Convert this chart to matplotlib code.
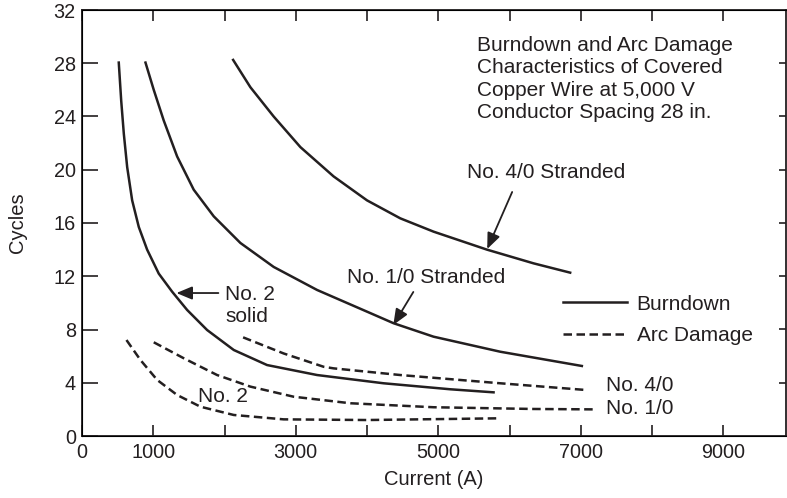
import matplotlib
matplotlib.use("Agg")
import matplotlib.pyplot as plt

plt.rcParams['font.family'] = ['Liberation Sans', 'DejaVu Sans']
INK = '#231f20'

# burndown curves (solid)
no2_solid_x = [516, 550, 587, 634, 704, 797, 914, 1077, 1265, 1475, 1756, 2130, 2597, 3299, 4233, 5168, 5776]
no2_solid_y = [28.05, 25.2, 22.7, 20.2, 17.7, 15.7, 14.0, 12.2, 10.84, 9.47, 7.96, 6.46, 5.33, 4.58, 3.96, 3.51, 3.28]

no10_strand_x = [891, 1007, 1147, 1335, 1568, 1849, 2223, 2690, 3299, 4000, 4373, 4934, 5870, 7015]
no10_strand_y = [28.05, 26.0, 23.7, 21.0, 18.5, 16.5, 14.5, 12.7, 10.97, 9.34, 8.47, 7.46, 6.33, 5.26]

no40_strand_x = [2121, 2363, 2690, 3065, 3531, 4000, 4467, 4934, 5683, 6337, 6851]
no40_strand_y = [28.25, 26.2, 24.0, 21.7, 19.5, 17.7, 16.35, 15.35, 14.0, 12.97, 12.27]

# arc damage curves (dashed)
arc40_x = [2261, 2830, 3391, 3532, 4467, 5870, 7062]
arc40_y = [7.41, 6.2, 5.2, 5.08, 4.58, 3.96, 3.46]

arc10_x = [1007, 1428, 1896, 2363, 2971, 3766, 4934, 6337, 7178]
arc10_y = [7.04, 5.84, 4.58, 3.71, 2.95, 2.46, 2.16, 2.03, 2.0]

arc2_x = [624, 820, 1055, 1335, 1662, 2129, 2830, 4000, 5870]
arc2_y = [7.21, 5.71, 4.21, 3.08, 2.2, 1.58, 1.25, 1.2, 1.33]

x_ticks = [0, 1000, 2000, 3000, 4000, 5000, 6000, 7000, 8000, 9000]
x_labels = ['0', '1000', '', '3000', '', '5000', '', '7000', '', '9000']
y_ticks = [0, 4, 8, 12, 16, 20, 24, 28, 32]

fig = plt.figure(figsize=(7.87, 4.98), dpi=100)
ax = fig.add_axes([82 / 787, 1 - 436 / 498, 704 / 787, 426 / 498])

lw = 1.8
dash = (3.4, 1.8)
kw = dict(color=INK, lw=lw, solid_joinstyle='round', dash_joinstyle='round')
ax.plot(no2_solid_x, no2_solid_y, label='Burndown', **kw)
ax.plot(no10_strand_x, no10_strand_y, **kw)
ax.plot(no40_strand_x, no40_strand_y, **kw)
ax.plot(arc40_x, arc40_y, dashes=dash, label='Arc Damage', **kw)
ax.plot(arc10_x, arc10_y, dashes=dash, **kw)
ax.plot(arc2_x, arc2_y, dashes=dash, **kw)

ax.set_xlim(0, 9880)
ax.set_ylim(0, 32)
ax.set_xticks(x_ticks)
ax.set_xticklabels(x_labels)
ax.set_yticks(y_ticks)
ax.tick_params(axis='both', direction='in', colors=INK, labelsize=14.3, width=1.2)
ax.tick_params(axis='x', top=True, length=8, pad=5)
ax.tick_params(axis='y', length=11.3, pad=4.5)
for s in ax.spines.values():
    s.set_linewidth(1.3)
    s.set_color(INK)

# right side has shorter ticks
ax2 = ax.twinx()
ax2.set_ylim(0, 32)
ax2.set_yticks(y_ticks[1:-1])
ax2.tick_params(axis='y', direction='in', length=4.7, width=1.2, colors=INK, labelright=False)
ax2.spines['right'].set_visible(False)

ax.set_xlabel('Current (A)', fontsize=14.5, color=INK, labelpad=6)
ax.set_ylabel('Cycles', fontsize=14.5, color=INK, labelpad=19)

fs = 15
ax.text(5543, 26.82, 'Burndown and Arc Damage\nCharacteristics of Covered\n'
        'Copper Wire at 5,000 V\nConductor Spacing 28 in.',
        fontsize=fs, color=INK, ha='left', va='center', linespacing=1.24)

ax.text(5407, 19.76, 'No. 4/0 Stranded', fontsize=fs, color=INK, va='center')
ax.text(3720, 11.87, 'No. 1/0 Stranded', fontsize=fs, color=INK, va='center')
ax.text(2013, 9.8, 'No. 2\nsolid', fontsize=fs, color=INK, va='center', linespacing=1.23)
ax.text(1634, 2.93, 'No. 2', fontsize=fs, color=INK, va='center')
ax.text(7356, 3.76, 'No. 4/0', fontsize=fs, color=INK, va='center')
ax.text(7356, 2.03, 'No. 1/0', fontsize=fs, color=INK, va='center')

arrow = dict(arrowstyle='-|>,head_length=0.6,head_width=0.25', color=INK, lw=1.3,
             mutation_scale=16, shrinkA=0, shrinkB=0)
ax.annotate('', xy=(5687, 14.05), xytext=(6037, 18.33), arrowprops=arrow)
ax.annotate('', xy=(4369, 8.34), xytext=(4650, 10.82), arrowprops=arrow)
ax.annotate('', xy=(1325, 10.74), xytext=(1914, 10.74), arrowprops=arrow)

ax.legend(loc='center left', bbox_to_anchor=(6751, 8.72), bbox_transform=ax.transData,
          frameon=False, fontsize=fs, borderpad=0, borderaxespad=0,
          handlelength=3.05, handletextpad=0.48, labelspacing=0.6, labelcolor=INK)

fig.savefig('out.png', dpi=100)
